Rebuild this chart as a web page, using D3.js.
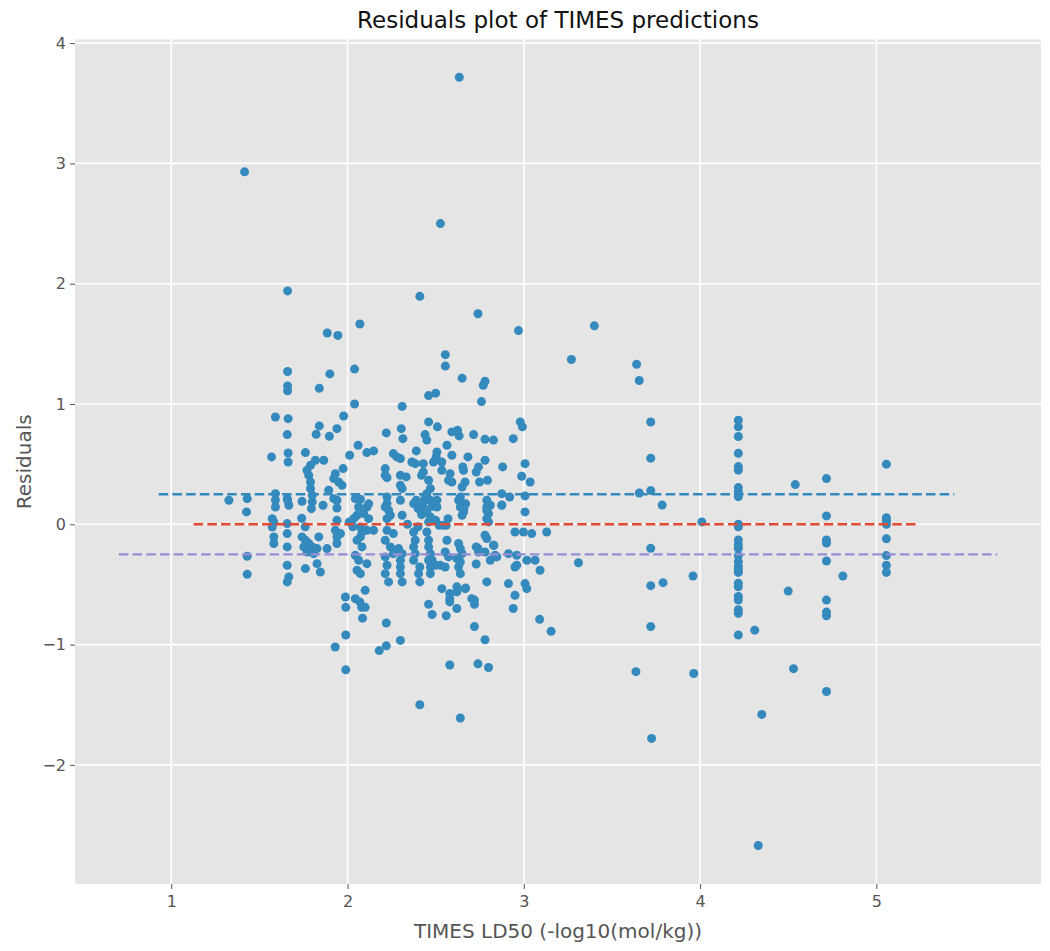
<!DOCTYPE html>
<html>
<head>
<meta charset="utf-8">
<script src="https://cdn.jsdelivr.net/npm/d3@7/dist/d3.min.js"></script>
<style>
  body { margin: 0; background: #fff; }
  text { font-family: "DejaVu Sans", sans-serif; }
</style>
</head>
<body>
<svg width="1050" height="951"></svg>
<script>
// residuals vs TIMES LD50 (-log10(mol/kg))
var upperPoints = [
  [1.416,2.93],[2.634,3.716],[2.527,2.50],[1.66,1.94],[2.41,1.895],[2.74,1.75],[1.885,1.59],
  [1.945,1.57],[2.07,1.665],[2.97,1.61],[3.27,1.37],[3.40,1.65],[1.66,1.27],[1.90,1.25],
  [2.04,1.29],[1.66,1.15],[1.66,1.11],[1.84,1.13],[2.555,1.41],[2.555,1.315],[2.65,1.215],
  [2.78,1.19],[2.77,1.155],[2.46,1.07],[2.50,1.09],[2.76,1.02],[2.04,1.00],[2.31,0.98]
];

var lowerPoints = [
  [1.99,-0.69],[2.07,-0.645],[2.08,-0.69],[2.10,-0.69],[2.085,-0.78],[2.22,-0.82],
  [2.30,-0.965],[1.99,-0.92],[1.93,-1.02],[1.99,-1.21],[2.18,-1.05],[2.22,-1.01],[2.41,-1.50],
  [2.64,-1.61],[2.58,-1.17],[2.74,-1.16],[2.80,-1.19],[2.78,-0.96],[2.72,-0.85],[3.09,-0.79],
  [3.155,-0.89],[2.94,-0.70],[2.72,-0.63],[2.72,-0.665],[2.62,-0.70],[2.56,-0.76],[2.46,-0.665],
  [2.48,-0.75],[2.58,-0.645]
];

var leftCluster = [
  [1.591,0.892],[1.663,0.878],[1.658,0.746],[1.978,0.90],[1.84,0.818],[1.822,0.748],[1.897,0.732],
  [1.94,0.795],[2.06,0.657],[2.11,0.596],[2.148,0.61],[2.012,0.574],[1.569,0.56],[1.663,0.593],
  [1.663,0.518],[1.761,0.596],[1.818,0.532],[1.865,0.532],[1.79,0.49],[1.77,0.449],[1.78,0.407],
  [1.79,0.352],[1.79,0.297],[1.80,0.241],[1.975,0.463],[1.931,0.421],[1.922,0.38],[1.95,0.352],
  [1.969,0.324],[1.893,0.283],[1.922,0.213],[1.327,0.20],[1.431,0.213],[1.427,0.103],[1.591,0.255],
  [1.591,0.20],[1.591,0.144],[1.573,0.047],[1.582,0.02],[1.658,0.213],[1.667,0.158],[1.658,0.006],
  [1.742,0.191],[1.80,0.186],[1.795,0.13],[1.861,0.158],[1.94,0.136],[1.94,0.20],[2.044,0.213],
  [2.073,0.208],[2.063,0.144],[2.11,0.144],[2.092,0.089],[2.12,0.047],[2.035,0.047],[2.054,0.075],
  [2.073,-0.022],[2.082,-0.064],[2.11,-0.05],[2.073,-0.105],[2.054,-0.133],[2.082,-0.188],
  [2.148,-0.05],[1.573,-0.022],[1.582,-0.105],[1.582,-0.16],[1.658,-0.077],[1.658,-0.188],
  [1.658,-0.34],[1.667,-0.437],[1.658,-0.479],[1.431,-0.266],[1.431,-0.415],[1.742,-0.105],
  [1.761,-0.133],[1.78,-0.16],[1.752,-0.188],[1.80,-0.188],[1.827,-0.202],[1.771,-0.23],
  [1.808,-0.244],[1.837,-0.105],[1.827,-0.327],[1.846,-0.396],[1.761,-0.368],[1.884,-0.202],
  [1.931,-0.05],[1.94,-0.105],[1.94,-0.16],[1.96,-0.077],[1.94,0.033],[2.044,-0.258],
  [2.063,-0.299],[2.054,-0.382],[2.073,-0.41],[2.11,-0.327],[2.10,-0.549],[1.988,-0.604],
  [2.044,-0.618],[1.66,0.20],[1.74,0.05],[1.76,-0.02],[2.01,0.02],[2.03,-0.02],[2.12,0.17]
];

var centerCluster = [
  [2.22,0.76],[2.305,0.795],[2.314,0.712],[2.46,0.851],[2.51,0.81],[2.44,0.746],[2.45,0.70],
  [2.592,0.768],[2.624,0.782],[2.633,0.735],[2.715,0.746],[2.78,0.707],[2.828,0.70],[2.94,0.712],
  [2.98,0.851],[2.992,0.81],[2.564,0.657],[2.26,0.588],[2.28,0.56],[2.30,0.546],[2.39,0.61],
  [2.507,0.602],[2.503,0.56],[2.488,0.518],[2.535,0.518],[2.592,0.574],[2.683,0.56],[2.78,0.532],
  [2.365,0.518],[2.384,0.504],[2.43,0.504],[2.88,0.477],[3.007,0.504],[2.214,0.463],[2.214,0.407],
  [2.224,0.388],[2.30,0.407],[2.333,0.394],[2.43,0.435],[2.42,0.407],[2.535,0.449],[2.582,0.421],
  [2.573,0.366],[2.592,0.352],[2.654,0.477],[2.658,0.449],[2.667,0.352],[2.65,0.31],[2.743,0.477],
  [2.73,0.435],[2.749,0.352],[2.794,0.366],[2.988,0.399],[3.036,0.352],[2.30,0.324],[2.31,0.297],
  [2.46,0.366],[2.47,0.297],[2.45,0.255],[2.47,0.20],[2.43,0.186],[2.41,0.172],[2.39,0.20],
  [2.375,0.172],[2.40,0.13],[2.43,0.144],[2.45,0.103],[2.47,0.061],[2.46,0.02],[2.50,0.033],
  [2.52,-0.008],[2.545,-0.008],[2.56,-0.008],[2.57,0.047],[2.44,0.23],[2.42,0.08],[2.48,0.15],
  [2.224,0.227],[2.224,0.172],[2.233,0.117],[2.243,0.075],[2.224,0.047],[2.214,0.144],
  [2.30,0.20],[2.31,0.075],[2.507,0.20],[2.507,0.144],[2.64,0.227],[2.63,0.20],[2.64,0.144],
  [2.658,0.103],[2.65,0.075],[2.79,0.20],[2.81,0.158],[2.80,0.089],[2.79,0.047],[2.80,0.02],
  [2.875,0.255],[2.875,0.158],[2.92,0.227],[3.007,0.236],[3.007,0.103],[3.13,-0.064],
  [2.95,-0.064],[2.998,-0.064],[3.045,-0.077],[2.224,-0.05],[2.26,-0.077],[2.214,-0.133],
  [2.243,-0.188],[2.27,-0.216],[2.214,-0.271],[2.224,-0.34],[2.214,-0.41],[2.233,-0.479],
  [2.26,-0.244],[2.29,-0.202],[2.31,-0.244],[2.30,-0.299],[2.30,-0.355],[2.30,-0.41],[2.31,-0.479],
  [2.375,-0.064],[2.384,-0.133],[2.375,-0.188],[2.384,-0.244],[2.375,-0.299],[2.41,-0.355],
  [2.403,-0.41],[2.45,-0.064],[2.46,-0.133],[2.46,-0.188],[2.47,-0.244],[2.46,-0.299],
  [2.47,-0.355],[2.47,-0.41],[2.48,-0.299],[2.50,-0.34],[2.526,-0.34],[2.554,-0.355],
  [2.564,-0.133],[2.63,-0.16],[2.64,-0.202],[2.65,-0.244],[2.62,-0.285],[2.64,-0.313],
  [2.63,-0.355],[2.64,-0.41],[2.62,-0.52],[2.554,-0.23],[2.573,-0.271],[2.73,-0.188],
  [2.743,-0.23],[2.78,-0.091],[2.79,-0.119],[2.78,-0.23],[2.828,-0.174],[2.837,-0.257],
  [2.847,-0.271],[2.81,-0.299],[2.913,-0.244],[2.96,-0.257],[2.96,-0.34],[2.95,-0.355],
  [3.017,-0.299],[3.064,-0.299],[3.092,-0.382],[2.79,-0.479],[2.913,-0.493],[2.95,-0.59],
  [3.007,-0.493],[3.017,-0.535],[2.41,-0.479],[2.535,-0.535],[2.58,-0.576],[2.62,-0.562],
  [2.667,-0.535],[2.58,-0.618],[2.705,-0.618],[2.34,0.00],[2.40,-0.02],[2.66,0.13],[2.67,0.17],
  [2.79,0.115],[2.79,0.145],[2.875,0.16],[2.74,-0.20],[2.83,-0.175],[2.73,-0.33],[2.67,-0.53]
];

var rightPoints = [
  [3.64,1.33],[3.655,1.195],[3.72,0.85],[3.72,0.55],[3.72,0.28],[3.655,0.26],[3.785,0.16],
  [4.01,0.02],[3.72,-0.20],[3.31,-0.32],[3.72,-0.51],[3.79,-0.485],[3.96,-0.43],[3.72,-0.85],
  [3.636,-1.225],[3.964,-1.24],[3.725,-1.78],[4.31,-0.88],[4.50,-0.555],[4.53,-1.20],
  [4.35,-1.58],[4.33,-2.67],[4.54,0.33],[4.81,-0.43]
];

// vertical runs of points sharing one LD50 value
var columnX = [4.217, 4.717, 5.057];
var columnResiduals = [
  [0.865,0.81,0.73,0.59,0.48,0.45,0.305,0.27,0.23,0.0,-0.02,-0.13,-0.17,-0.20,-0.26,-0.31,
   -0.35,-0.38,-0.40,-0.49,-0.52,-0.60,-0.63,-0.71,-0.74,-0.92],
  [0.38,0.07,-0.13,-0.155,-0.305,-0.63,-0.73,-0.76,-1.39],
  [0.50,0.055,0.03,0.0,-0.12,-0.26,-0.34,-0.40]
];

// dashed reference lines: level and x extent
var refLines = [
  { y: 0.25, x0: 0.929, x1: 5.442, color: "#348ABD" },
  { y: 0.0, x0: 1.127, x1: 5.244, color: "#E24A33" },
  { y: -0.25, x0: 0.703, x1: 5.686, color: "#988ED5" }
];

var xTicks = [1, 2, 3, 4, 5];
var yTicks = [-2, -1, 0, 1, 2, 3, 4];

var points = upperPoints.concat(lowerPoints, leftCluster, centerCluster, rightPoints);
columnX.forEach(function (cx, i) {
  columnResiduals[i].forEach(function (r) { points.push([cx, r]); });
});

var svg = d3.select("svg");
var margin = { top: 39.5, right: 9, bottom: 67, left: 75 },
  width = +svg.attr("width") - margin.left - margin.right,
  height = +svg.attr("height") - margin.top - margin.bottom;

var x = d3.scaleLinear().domain([0.454, 5.934]).range([0, width]);
var y = d3.scaleLinear().domain([-2.99, 4.03]).range([height, 0]);

var g = svg.append("g")
  .attr("transform", "translate(" + margin.left + "," + margin.top + ")");

g.append("rect")
  .attr("width", width)
  .attr("height", height)
  .attr("fill", "#E5E5E5");

// grid
g.append("g").selectAll("line")
  .data(xTicks).enter().append("line")
  .attr("x1", function (d) { return x(d); })
  .attr("x2", function (d) { return x(d); })
  .attr("y1", 0).attr("y2", height)
  .attr("stroke", "#fff").attr("stroke-width", 1.6);

g.append("g").selectAll("line")
  .data(yTicks).enter().append("line")
  .attr("y1", function (d) { return y(d); })
  .attr("y2", function (d) { return y(d); })
  .attr("x1", 0).attr("x2", width)
  .attr("stroke", "#fff").attr("stroke-width", 1.6);

var xAxis = g.append("g")
  .attr("transform", "translate(0," + height + ")")
  .call(d3.axisBottom(x).tickValues(xTicks).tickSize(5).tickPadding(7).tickFormat(d3.format("d")));

var yAxis = g.append("g")
  .call(d3.axisLeft(y).tickValues(yTicks).tickSize(5).tickPadding(4).tickFormat(d3.format("d")));

[xAxis, yAxis].forEach(function (a) {
  a.select(".domain").remove();
  a.selectAll(".tick line").attr("stroke", "#555").attr("stroke-width", 1);
  a.selectAll(".tick text")
    .attr("fill", "#555")
    .style("font-size", "16px")
    .style("font-family", '"DejaVu Sans", sans-serif');
});

// scatter
g.append("g").selectAll("circle")
  .data(points).enter().append("circle")
  .attr("cx", function (d) { return x(d[0]); })
  .attr("cy", function (d) { return y(d[1]); })
  .attr("r", 4.5)
  .attr("fill", "#348ABD");

// dashed reference lines
g.append("g").selectAll("line")
  .data(refLines).enter().append("line")
  .attr("x1", function (d) { return x(d.x0); })
  .attr("x2", function (d) { return x(d.x1); })
  .attr("y1", function (d) { return y(d.y); })
  .attr("y2", function (d) { return y(d.y); })
  .attr("stroke", function (d) { return d.color; })
  .attr("stroke-width", 2.4)
  .attr("stroke-dasharray", "9.5,4.2");

svg.append("text")
  .attr("x", margin.left + width / 2)
  .attr("y", 28)
  .attr("text-anchor", "middle")
  .attr("fill", "#111")
  .style("font-size", "23px")
  .text("Residuals plot of TIMES predictions");

svg.append("text")
  .attr("x", margin.left + width / 2)
  .attr("y", 938)
  .attr("text-anchor", "middle")
  .attr("fill", "#555")
  .style("font-size", "20px")
  .text("TIMES LD50 (-log10(mol/kg))");

svg.append("text")
  .attr("transform", "translate(31," + (margin.top + height / 2) + ") rotate(-90)")
  .attr("text-anchor", "middle")
  .attr("fill", "#555")
  .style("font-size", "20px")
  .text("Residuals");
</script>
</body>
</html>
